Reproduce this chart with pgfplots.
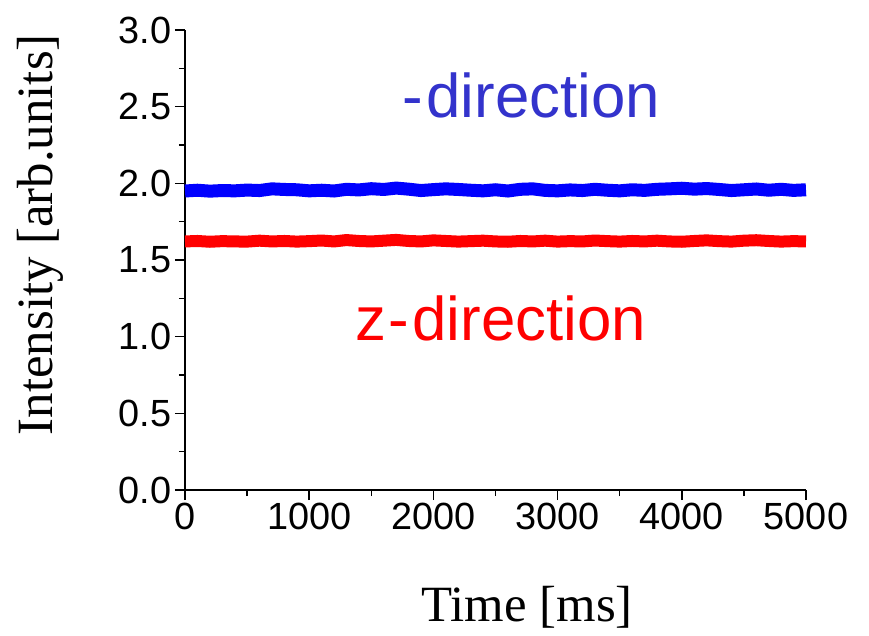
\documentclass[border=0pt]{standalone}
\usepackage{fontspec}
\setmainfont{Liberation Serif}
\newfontfamily\arial{Liberation Sans}
\usepackage{pgfplots}
\pgfplotsset{compat=1.18}
\definecolor{lblblue}{RGB}{51,51,204}

\begin{document}
\begin{tikzpicture}
\begin{axis}[
  scale only axis,
  width=621bp, height=460bp,
  xmin=0, xmax=5000, ymin=0, ymax=3,
  axis lines*=left,
  axis line style={line width=1.5bp},
  tick style={line width=1.5bp, black},
  tick align=outside,
  major tick length=10bp, minor tick length=6bp,
  minor tick num=1,
  xtick={0,1000,...,5000},
  ytick={0,0.5,...,3.0},
  yticklabel style={/pgf/number format/.cd, fixed, fixed zerofill, precision=1},
  xticklabel style={/pgf/number format/1000 sep={}},
  /pgf/number format/assume math mode=true,
  tick label style={font=\arial\fontsize{38}{38}\selectfont},
  xlabel={Time [ms]},
  ylabel={Intensity [arb.units]},
  label style={font=\fontsize{51}{51}\selectfont},
  xlabel style={at={(axis description cs:0.551,-0.254)}, anchor=center},
  ylabel style={at={(axis description cs:-0.2335,0.555)}, anchor=center, rotate=0},
  clip=false,
]
% blue series (upper band)
\addplot[blue, line width=13bp] coordinates {
(0,1.950) (100,1.955) (200,1.949) (300,1.953) (400,1.951) (500,1.956)
(600,1.953) (700,1.964) (800,1.960) (900,1.958) (1000,1.951) (1100,1.955)
(1200,1.950) (1300,1.961) (1400,1.957) (1500,1.965) (1600,1.960) (1700,1.969)
(1800,1.962) (1900,1.953) (2000,1.959) (2100,1.964) (2200,1.960) (2300,1.955)
(2400,1.951) (2500,1.958) (2600,1.950) (2700,1.961) (2800,1.964) (2900,1.954)
(3000,1.951) (3100,1.957) (3200,1.953) (3300,1.961) (3400,1.955) (3500,1.951)
(3600,1.958) (3700,1.954) (3800,1.961) (3900,1.964) (4000,1.968) (4100,1.962)
(4200,1.966) (4300,1.960) (4400,1.953) (4500,1.958) (4600,1.963) (4700,1.955)
(4800,1.961) (4900,1.954) (5000,1.958)
};
% red series (lower band)
\addplot[red, line width=12bp] coordinates {
(0,1.621) (100,1.624) (200,1.619) (300,1.623) (400,1.621) (500,1.620)
(600,1.626) (700,1.621) (800,1.624) (900,1.620) (1000,1.623) (1100,1.627)
(1200,1.621) (1300,1.630) (1400,1.624) (1500,1.621) (1600,1.626) (1700,1.631)
(1800,1.624) (1900,1.621) (2000,1.628) (2100,1.624) (2200,1.620) (2300,1.623)
(2400,1.626) (2500,1.621) (2600,1.619) (2700,1.624) (2800,1.621) (2900,1.626)
(3000,1.620) (3100,1.623) (3200,1.621) (3300,1.627) (3400,1.623) (3500,1.620)
(3600,1.624) (3700,1.621) (3800,1.626) (3900,1.621) (4000,1.619) (4100,1.624)
(4200,1.628) (4300,1.623) (4400,1.620) (4500,1.626) (4600,1.629) (4700,1.624)
(4800,1.620) (4900,1.623) (5000,1.621)
};
\node[anchor=base, text=lblblue, font=\arial\fontsize{62}{62}\selectfont]
  at (axis cs:2790,2.427) {-\kern3bp direction};
\node[anchor=base, text=red, font=\arial\fontsize{62}{62}\selectfont]
  at (axis cs:2540,0.978) {z\kern3bp-\kern3bp direction};
\end{axis}
\path (-185bp,-146bp) rectangle (684bp,490bp);
\end{tikzpicture}
\end{document}
